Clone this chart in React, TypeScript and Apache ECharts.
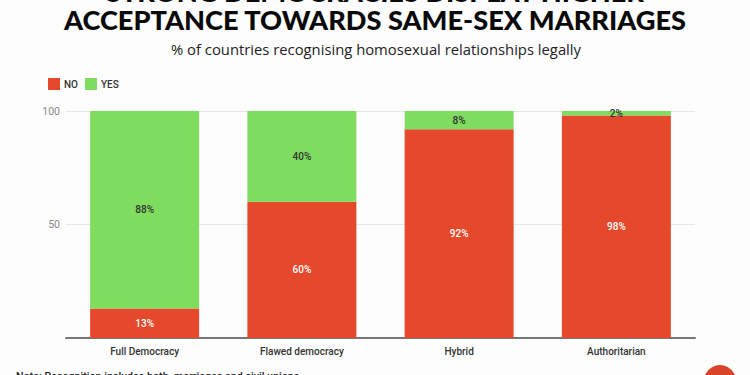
import React, { useEffect, useRef } from "react";
import * as echarts from "echarts";

const categories = ["Full Democracy", "Flawed democracy", "Hybrid", "Authoritarian"];
const noValues = [13, 60, 92, 98];
const yesValues = [88, 40, 8, 2];
const yTicks = [0, 50, 100];
const titleLine1 = "STRONG DEMOCRACIES DISPLAY HIGHER";
const titleLine2 = "ACCEPTANCE TOWARDS SAME-SEX MARRIAGES";
const subtitle = "% of countries recognising homosexual relationships legally";
const note = "Note: Recognition includes both  marriages and civil unions";

export default function App() {
  const ref = useRef<HTMLDivElement>(null);
  useEffect(() => {
    const chart = echarts.init(ref.current!, null, { renderer: "svg" });
    const font = "Roboto";
    const labelOf = (color: string) => ({
      show: true,
      position: "inside" as const,
      formatter: "{c}%",
      color,
      fontFamily: font,
      fontSize: 10,
      fontWeight: 500,
    });
    chart.setOption({
      animation: false,
      backgroundColor: "#fdfdfd",
      textStyle: { fontFamily: font },
      grid: { left: 66, right: 55, top: 111, bottom: 37 },
      legend: {
        left: 43,
        top: 73,
        itemWidth: 12,
        itemHeight: 12,
        itemGap: 7,
        icon: "rect",
        textStyle: { fontFamily: font, fontSize: 10, fontWeight: 500, color: "#333", padding: [0, 0, 0, -1] },
        data: ["NO", "YES"],
      },
      xAxis: {
        type: "category",
        data: categories,
        axisTick: { show: false },
        axisLine: { lineStyle: { color: "#777", width: 2 } },
        axisLabel: { color: "#333", fontFamily: font, fontSize: 10, fontWeight: 500, margin: 8, interval: 0 },
      },
      yAxis: {
        type: "value",
        min: 0,
        max: 100,
        interval: 50,
        axisLine: { show: false },
        axisTick: { show: false },
        splitLine: { lineStyle: { color: "#e6e6e6", width: 1 } },
        axisLabel: {
          color: "#888888",
          fontFamily: font,
          fontSize: 10.5,
          margin: 6,
          formatter: (v: number) => (yTicks.includes(v) && v !== 0 ? String(v) : ""),
        },
      },
      series: [
        {
          name: "NO",
          type: "bar",
          stack: "total",
          barWidth: 109,
          data: noValues,
          itemStyle: { color: "#e5482a" },
          label: labelOf("#ffffff"),
        },
        {
          name: "YES",
          type: "bar",
          stack: "total",
          barWidth: 109,
          data: yesValues,
          itemStyle: { color: "#7edc5f" },
          label: labelOf("#333333"),
        },
      ],
      graphic: [
        {
          type: "text",
          x: 375,
          y: -9,
          style: { text: titleLine1, font: "900 27.2px Lato", fill: "#0a0a0a", align: "center", verticalAlign: "middle" },
        },
        {
          type: "text",
          x: 375,
          y: 19,
          style: { text: titleLine2, font: "900 27.2px Lato", fill: "#0a0a0a", align: "center", verticalAlign: "middle" },
        },
        {
          type: "text",
          x: 376,
          y: 49,
          style: { text: subtitle, font: "400 14.8px 'Open Sans'", fill: "#222", align: "center", verticalAlign: "middle" },
        },
        {
          type: "text",
          x: 16,
          y: 376,
          style: { text: note, font: "500 10.7px Roboto", fill: "#222", align: "left", verticalAlign: "middle" },
        },
        { type: "circle", shape: { cx: 720, cy: 381, r: 16 }, style: { fill: "#d9432a" } },
      ],
    });
    return () => chart.dispose();
  }, []);
  return <div ref={ref} style={{ width: 750, height: 375, position: "fixed", left: 0, top: 0 }} />;
}
